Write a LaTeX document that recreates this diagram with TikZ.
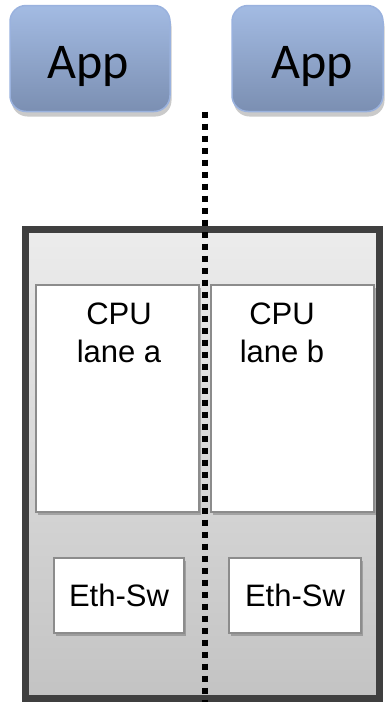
\documentclass[tikz,border=0pt]{standalone}
\usepackage{fontspec}
\setmainfont{Liberation Sans}
\newfontfamily\appfont{Carlito}
\usetikzlibrary{shadows}

\definecolor{apptop}{HTML}{A3BBE3}
\definecolor{appbot}{HTML}{7B8FB2}
\definecolor{appedge}{HTML}{9AB2DE}
\definecolor{boardtop}{HTML}{ECECEC}
\definecolor{boardbot}{HTML}{C3C3C3}
\definecolor{boardedge}{HTML}{3F3F3F}
\definecolor{unitedge}{HTML}{8C8C8C}

\begin{document}
\begin{tikzpicture}[x=1pt,y=-1pt,
  appbox/.style={rectangle, rounded corners=16pt, draw=appedge, line width=1.5pt,
    top color=apptop, bottom color=appbot, inner sep=0pt,
    drop shadow={shadow xshift=1.5pt, shadow yshift=-5pt, opacity=0.35, fill=black!60}},
  apptext/.style={font=\appfont\fontsize{50}{60}\selectfont, inner sep=0pt, anchor=base},
  board/.style={rectangle, draw=boardedge, line width=7pt, top color=boardtop,
    bottom color=boardbot, inner sep=0pt},
  unit/.style={rectangle, draw=unitedge, line width=1.5pt, fill=white, inner sep=0pt,
    drop shadow={shadow xshift=2pt, shadow yshift=-2.5pt, opacity=0.35, fill=black!70}},
  unittext/.style={font=\fontsize{31}{38}\selectfont},
  cputext/.style={unittext, align=center, inner sep=0pt, anchor=north},
  divider/.style={line width=6pt, dash pattern=on 6pt off 6pt}
]
\useasboundingbox (0,0) rectangle (384,702);

% application boxes
\node[appbox, minimum width=160pt, minimum height=106pt] (appA) at (90,58.5) {};
\node[appbox, minimum width=151pt, minimum height=106pt] (appB) at (307.5,58.5) {};
\node[apptext] (appAtxt) at (88,78) {App};
\node[apptext] (appBtxt) at (312,78) {App};

% the board
\node[board, minimum width=353.5pt, minimum height=469pt] (brd) at (202.25,464) {};

% CPU lanes
\node[unit, minimum width=163pt, minimum height=227pt] (cpuA) at (117.5,398.5) {};
\node[unit, minimum width=163pt, minimum height=227pt] (cpuB) at (292.5,398.5) {};
\node[cputext] (cpuAtxt) at (119,303) {CPU\\lane a};
\node[cputext] (cpuBtxt) at (282,303) {CPU\\lane b};

% Ethernet switches
\node[unit, unittext, minimum width=130pt, minimum height=75pt] (ethA) at (119,595.5) {Eth-Sw};
\node[unit, unittext, minimum width=132pt, minimum height=75pt] (ethB) at (295,595.5) {Eth-Sw};

% partition line
\coordinate (divTop) at (205.3,111.7);
\coordinate (divBot) at (205.3,702);
\draw[divider] (divTop) -- (divBot);
\end{tikzpicture}
\end{document}
